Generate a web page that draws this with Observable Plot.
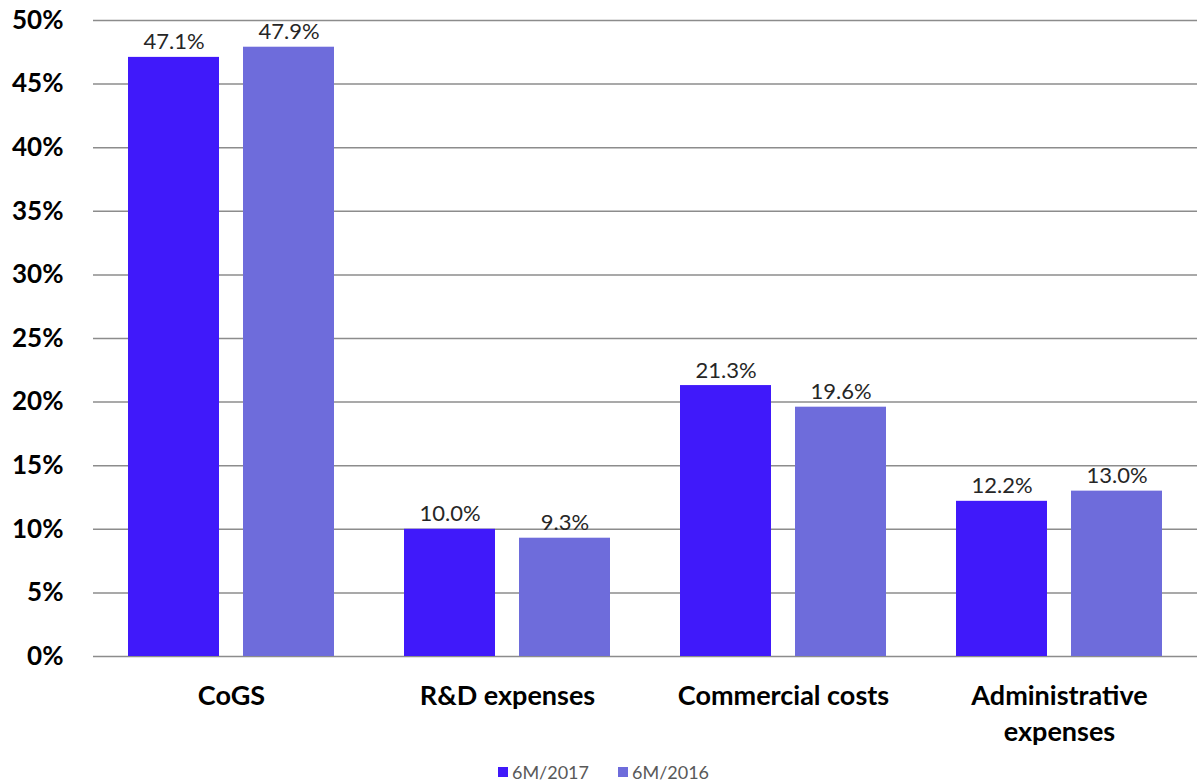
<!DOCTYPE html>
<html>
<head>
<meta charset="utf-8">
<script src="https://cdn.jsdelivr.net/npm/d3@7"></script>
<script src="https://cdn.jsdelivr.net/npm/@observablehq/plot@0.6"></script>
<style>
  html, body { margin: 0; padding: 0; background: #fff; overflow: hidden; }
  #chart { width: 1197px; }
  #chart svg { display: block; }
  .legend { display: flex; justify-content: center; gap: 29px; font-family: Lato, "Open Sans", sans-serif; font-size: 18px; line-height: 20px; color: #595959; margin-top: 14px; padding-left: 10px; }
  .legend span.item { display: inline-flex; align-items: center; gap: 4px; }
  .legend span.sw { width: 10px; height: 10px; display: inline-block; }
</style>
</head>
<body>
<div id="chart"></div>
<script>
const categories = ["CoGS", "R&D expenses", "Commercial costs", "Administrative expenses"];
const series = ["6M/2017", "6M/2016"];
const values2017 = [47.1, 10.0, 21.3, 12.2];
const values2016 = [47.9, 9.3, 19.6, 13.0];
const yTicks = [0, 5, 10, 15, 20, 25, 30, 35, 40, 45, 50];
const colors = ["#4019FA", "#6E6CDB"];

const data = categories.flatMap((c, i) => [
  {category: c, series: series[0], value: values2017[i]},
  {category: c, series: series[1], value: values2016[i]}
]);

const font = "Lato, 'Open Sans', sans-serif";

const chart = Plot.plot({
  width: 1197,
  height: 748,
  marginLeft: 93,
  marginRight: 0,
  marginTop: 20,
  marginBottom: 92,
  style: {fontFamily: font, color: "#000", background: "#fff"},
  fx: {domain: categories, padding: 0, label: null},
  x: {domain: series, paddingInner: 0.2087, paddingOuter: 0.3043, axis: null},
  y: {domain: [0, 50], axis: null},
  color: {domain: series, range: colors},
  marks: [
    Plot.gridY(yTicks, {stroke: "#8c8c8c", strokeOpacity: 1, strokeWidth: 1.5}),
    Plot.axisY(yTicks, {tickSize: 0, tickPadding: 30, tickFormat: d => d + "%", fontSize: 26, fontWeight: "bold", label: null}),
    Plot.axisFx({anchor: "bottom", tickSize: 0, tickPadding: 24, fontSize: 27, fontWeight: "bold", lineHeight: 1.3, label: null,
      tickFormat: d => d === "Administrative expenses" ? "Administrative\nexpenses" : d}),
    Plot.barY(data, {fx: "category", x: "series", y: "value", fill: "series"}),
    Plot.text(data, {fx: "category", x: "series", y: "value", text: d => d.value.toFixed(1) + "%", lineAnchor: "bottom", dy: -8, fontSize: 22, fill: "#262626"})
  ]
});
document.getElementById("chart").appendChild(chart);

const legend = document.createElement("div");
legend.className = "legend";
series.forEach((s, i) => {
  const item = document.createElement("span");
  item.className = "item";
  const sw = document.createElement("span");
  sw.className = "sw";
  sw.style.background = colors[i];
  const t = document.createElement("span");
  t.textContent = s;
  item.appendChild(sw);
  item.appendChild(t);
  legend.appendChild(item);
});
document.getElementById("chart").appendChild(legend);
</script>
</body>
</html>
